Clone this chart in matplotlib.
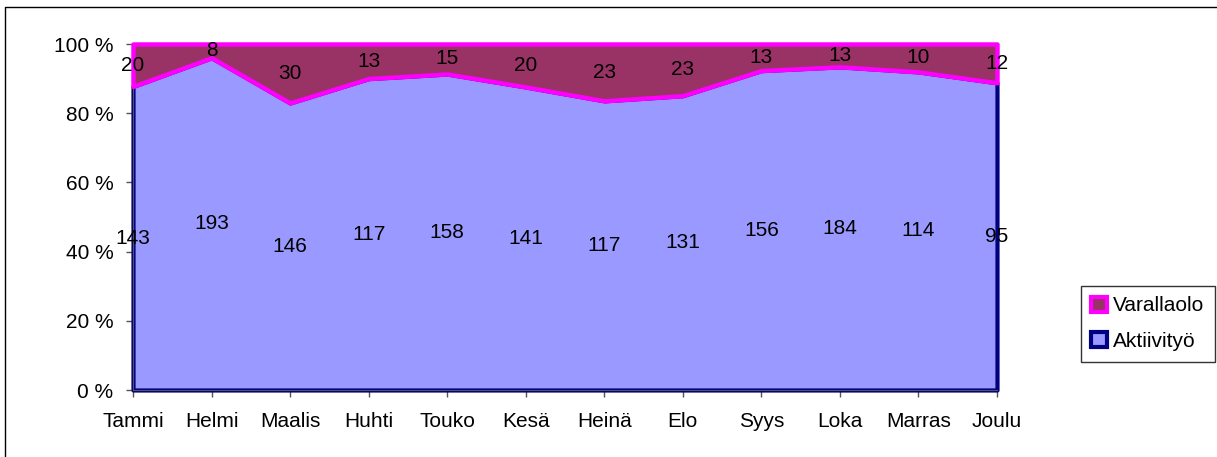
import matplotlib.pyplot as plt
from matplotlib.patches import Patch
from matplotlib.lines import Line2D
import numpy as np

plt.rcParams['font.family'] = ['Liberation Sans', 'DejaVu Sans']

months = ['Tammi', 'Helmi', 'Maalis', 'Huhti', 'Touko', 'Kesä', 'Heinä',
          'Elo', 'Syys', 'Loka', 'Marras', 'Joulu']
aktiivityo = [143, 193, 146, 117, 158, 141, 117, 131, 156, 184, 114, 95]
varallaolo = [20, 8, 30, 13, 15, 20, 23, 23, 13, 13, 10, 12]

a = np.array(aktiivityo, dtype=float)
v = np.array(varallaolo, dtype=float)
tot = a + v
pa = a / tot * 100
pv = v / tot * 100
x = np.arange(len(months))

fs = 15

fig = plt.figure(figsize=(12.17, 4.57), dpi=100)
ax = fig.add_axes([133/1217, 1-390/457, (997-133)/1217, (390-44)/457])

# bottom series: Aktiivityö
ax.fill_between(x, 0, pa, facecolor='#9999FF', edgecolor='#000080',
                linewidth=3.0, clip_on=False, zorder=2)
# top series: Varallaolo
ax.fill_between(x, pa, 100, facecolor='#993366', edgecolor='#FF00FF',
                linewidth=3.2, clip_on=False, zorder=3)

# data labels in the middle of each band
for i in x:
    ax.text(i, pa[i] / 2, str(aktiivityo[i]), ha='center', va='center',
            fontsize=fs, zorder=5)
    ax.text(i, pa[i] + pv[i] / 2, str(varallaolo[i]), ha='center', va='center',
            fontsize=fs, zorder=5)

ax.set_xlim(0, len(months) - 1)
ax.set_ylim(0, 100)
ax.set_xticks(x)
ax.set_xticklabels(months, fontsize=fs)
ax.set_yticks([0, 20, 40, 60, 80, 100])
ax.set_yticklabels(['0 %', '20 %', '40 %', '60 %', '80 %', '100 %'], fontsize=fs)
ax.tick_params(axis='both', direction='out', length=5, width=1, color='#555555')
ax.tick_params(axis='x', pad=11)
ax.tick_params(axis='y', pad=9)
for s in ['top', 'right']:
    ax.spines[s].set_visible(False)
for s in ['left', 'bottom']:
    ax.spines[s].set_color('#555555')

handles = [Patch(facecolor='#993366', edgecolor='#FF00FF', linewidth=3, label='Varallaolo'),
           Patch(facecolor='#9999FF', edgecolor='#000080', linewidth=3, label='Aktiivityö')]
leg = fig.legend(handles=handles, loc='upper left', bbox_to_anchor=(1081/1217, 1-286/457),
                 fontsize=fs, frameon=True, fancybox=False, handlelength=0.75,
                 handleheight=0.75, handletextpad=0.3, borderpad=0.5, labelspacing=0.8,
                 borderaxespad=0)
leg.get_frame().set_edgecolor('#000000')
leg.get_frame().set_linewidth(1.0)

# outer chart border (left and top visible)
fig.add_artist(Line2D([5/1217, 5/1217, 1.0], [0.0, 1-7/457, 1-7/457],
                      transform=fig.transFigure, color='#000000', linewidth=1.0))

fig.savefig('out.png', dpi=100)
